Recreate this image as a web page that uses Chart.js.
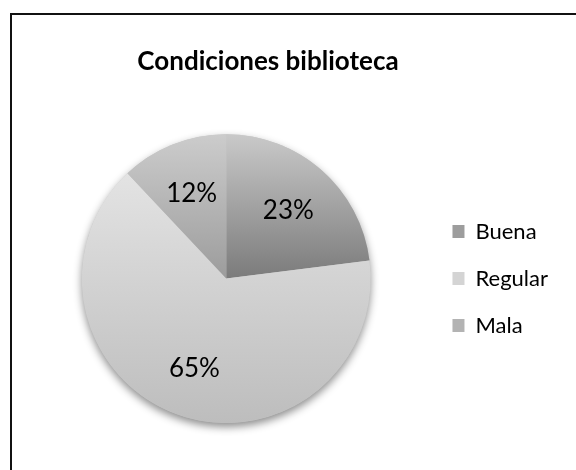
<!DOCTYPE html>
<html>
<head>
<meta charset="utf-8">
<script src="https://cdn.jsdelivr.net/npm/chart.js@4.4.1/dist/chart.umd.min.js"></script>
<style>
  html, body { margin: 0; padding: 0; background: #fff; }
  #wrap { position: relative; width: 576px; height: 470px; overflow: hidden; }
  /* the chart frame: only the top and left edges fall inside the picture */
  #frame { position: absolute; left: 10px; top: 13px; width: 600px; height: 500px;
           border-top: 2px solid #111; border-left: 2px solid #111; }
  canvas { position: absolute; left: 0; top: 0; }
</style>
</head>
<body>
<div id="wrap">
  <div id="frame"></div>
  <canvas id="myChart" width="576" height="470"></canvas>
</div>
<script>
const chartTitle = 'Condiciones biblioteca';
const categories = ['Buena', 'Regular', 'Mala'];
const values = [23, 65, 12];

// shading of each slice, top to bottom
const topColors = ['#c9c9c9', '#e3e3e3', '#cccccc'];
const bottomColors = ['#7b7b7b', '#bdbdbd', '#9c9c9c'];
const legendColors = ['#9d9d9d', '#d4d4d4', '#b3b3b3'];

const FONT = 'Lato';

function total() {
  return values.reduce((a, b) => a + b, 0);
}

// vertical gradient fitted to the bounding box of one slice
function sliceGradient(context) {
  const i = context.dataIndex;
  const chart = context.chart;
  const area = chart.chartArea;
  if (!area) return topColors[i];
  const cx = (area.left + area.right) / 2;
  const cy = (area.top + area.bottom) / 2;
  const r = Math.min(area.right - area.left, area.bottom - area.top) / 2;
  let start = -Math.PI / 2;
  for (let k = 0; k < i; k++) start += values[k] / total() * Math.PI * 2;
  const end = start + values[i] / total() * Math.PI * 2;
  const ys = [cy, cy + r * Math.sin(start), cy + r * Math.sin(end)];
  [-Math.PI / 2, Math.PI / 2, Math.PI * 1.5].forEach(a => {
    if (a >= start && a <= end) ys.push(cy + r * Math.sin(a));
  });
  const g = chart.ctx.createLinearGradient(0, Math.min(...ys), 0, Math.max(...ys));
  g.addColorStop(0, topColors[i]);
  g.addColorStop(1, bottomColors[i]);
  return g;
}

// soft shadow under the pie
const pieShadow = {
  id: 'pieShadow',
  beforeDatasetsDraw(chart) {
    const arc = chart.getDatasetMeta(0).data[0];
    if (!arc) return;
    const ctx = chart.ctx;
    ctx.save();
    ctx.shadowColor = 'rgba(0,0,0,0.45)';
    ctx.shadowBlur = 8;
    ctx.shadowOffsetY = 4;
    ctx.beginPath();
    ctx.arc(arc.x, arc.y, arc.outerRadius, 0, Math.PI * 2);
    ctx.fillStyle = '#c4c4c4';
    ctx.fill();
    ctx.restore();
  }
};

// percentage labels inside the slices
const percentLabels = {
  id: 'percentLabels',
  afterDatasetsDraw(chart) {
    const ctx = chart.ctx;
    ctx.save();
    ctx.font = '26px ' + FONT;
    ctx.fillStyle = '#000';
    ctx.textAlign = 'center';
    ctx.textBaseline = 'middle';
    chart.getDatasetMeta(0).data.forEach((arc, i) => {
      const mid = (arc.startAngle + arc.endAngle) / 2;
      const d = arc.outerRadius * 0.65;
      const txt = Math.round(values[i] / total() * 100) + '%';
      ctx.fillText(txt, arc.x + Math.cos(mid) * d, arc.y + Math.sin(mid) * d + 2);
    });
    ctx.restore();
  }
};

// centre the title over the area left of the legend margin
const titlePlace = {
  id: 'titlePlace',
  afterLayout(chart) {
    const t = chart.titleBlock;
    if (!t) return;
    t.left = 0;
    t.right = 536;
    t.width = 536;
  }
};

const ctx = document.getElementById('myChart').getContext('2d');
new Chart(ctx, {
  type: 'pie',
  data: {
    labels: categories,
    datasets: [{
      data: values,
      backgroundColor: sliceGradient,
      borderWidth: 0,
      hoverOffset: 0,
      offset: 0
    }]
  },
  options: {
    responsive: false,
    animation: false,
    events: [],
    layout: { padding: { left: 25, right: 18, top: 0, bottom: 47 } },
    plugins: {
      title: {
        display: true,
        text: chartTitle,
        color: '#000',
        font: { family: FONT, size: 26, weight: 'bold' },
        padding: { top: 46, bottom: 57 }
      },
      legend: {
        position: 'right',
        align: 'center',
        fullSize: false,
        labels: {
          boxWidth: 12,
          boxHeight: 13,
          padding: 25,
          color: '#000',
          font: { family: FONT, size: 22 },
          generateLabels(chart) {
            return categories.map((c, i) => ({
              text: c,
              fillStyle: legendColors[i],
              strokeStyle: legendColors[i],
              lineWidth: 0,
              hidden: false,
              index: i
            }));
          }
        }
      },
      tooltip: { enabled: false }
    }
  },
  plugins: [pieShadow, percentLabels, titlePlace]
});
</script>
</body>
</html>
